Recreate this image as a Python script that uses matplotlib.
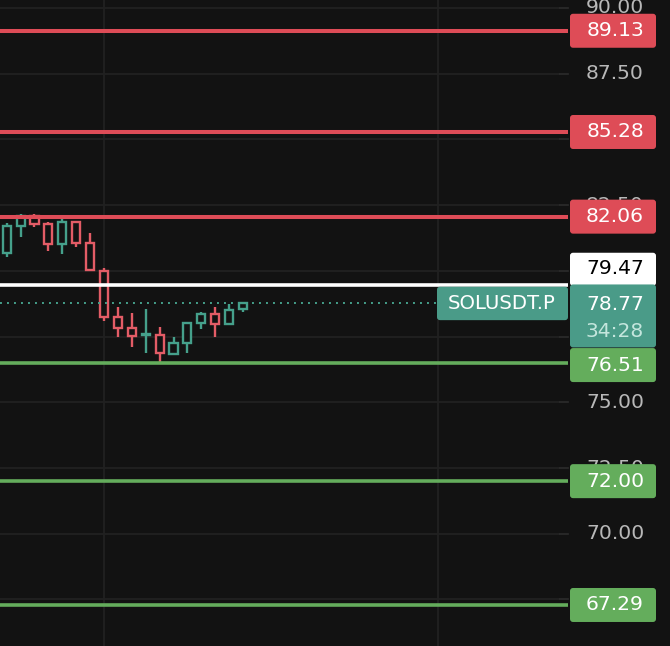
import matplotlib
matplotlib.use("Agg")
import matplotlib.pyplot as plt
from matplotlib.patches import Rectangle, FancyBboxPatch

# ---------------- data ----------------
opens  = [80.67, 81.71, 82.10, 81.79, 81.01, 81.84, 81.05, 80.01, 78.24, 77.82,
          77.56, 77.54, 76.84, 77.27, 78.01, 78.35, 77.97, 78.54]
closes = [81.71, 82.07, 81.79, 81.01, 81.86, 81.05, 80.04, 78.24, 77.82, 77.52,
          77.60, 76.87, 77.25, 78.01, 78.35, 77.97, 78.51, 78.77]
highs  = [81.81, 82.16, 82.16, 81.86, 82.00, 81.91, 81.43, 80.12, 78.62, 78.39,
          78.55, 77.86, 77.47, 78.05, 78.45, 78.64, 78.74, 78.79]
lows   = [80.52, 81.28, 81.65, 80.76, 80.63, 80.92, 80.04, 78.11, 77.47, 77.12,
          76.89, 76.52, 76.84, 76.89, 77.78, 77.47, 77.97, 78.43]

resistance = [89.13, 85.28, 82.06]
support = [76.51, 72.00, 67.29]
white_level = 79.47
current_price = 78.77
countdown = "34:28"
symbol = "SOLUSDT.P"
price_ticks = [90.00, 87.50, 85.00, 82.50, 80.00, 77.50, 75.00, 72.50, 70.00, 67.50]
# tick labels not fully covered by the level labels
visible_tick_labels = ["90.00", "87.50", "82.50", "75.00", "72.50", "70.00"]
time_grid = [7, 31]

# ---------------- style ----------------
BG = "#121212"
GRID = "#212121"
UP = "#45a08b"
DOWN = "#e35c66"
RED = "#de4c57"
GREEN = "#64ad5c"
TEAL = "#4a9b88"
TICKC = "#b8b8b8"
FONT = 14.6

W, H = 670, 646
fig = plt.figure(figsize=(W / 100, H / 100), dpi=100, facecolor=BG)

ylim = (65.73, 90.30)
ppu = H / (ylim[1] - ylim[0])  # pixels per price unit

ax = fig.add_axes([0, 0, 560 / W, 1])
ax.set_facecolor(BG)
ax.set_ylim(*ylim)
ax.set_xlim(-0.48, 39.8)
for s in ax.spines.values():
    s.set_visible(False)
ax.set_yticks(price_ticks)
ax.set_xticks(time_grid)
ax.tick_params(left=False, bottom=False, labelleft=False, labelbottom=False)
ax.grid(True, color=GRID, lw=1.3)

# candles (hollow)
bw = 0.58
for i, (o, c, h, l) in enumerate(zip(opens, closes, highs, lows)):
    col = UP if c >= o else DOWN
    top, bot = max(o, c), min(o, c)
    ax.vlines(i, top, h, color=col, lw=1.7, zorder=3)
    ax.vlines(i, l, bot, color=col, lw=1.7, zorder=3)
    ax.add_patch(Rectangle((i - bw / 2, bot), bw, max(top - bot, 0.005),
                           facecolor=BG, edgecolor=col, lw=1.7, zorder=4))

# overlay in pixel-x / price-y
ov = fig.add_axes([0, 0, 1, 1], facecolor="none")
ov.set_xlim(0, W)
ov.set_ylim(*ylim)
ov.axis("off")

def dy(px):
    return px / ppu

# price scale ticks and labels
for t in price_ticks:
    ov.plot([560, 568], [t, t], color="#2c2c2c", lw=1.2, zorder=1)
    lab = f"{t:.2f}"
    if lab in visible_tick_labels:
        ov.text(615, t, lab, ha="center", va="center", color=TICKC,
                fontsize=FONT, zorder=2)

# current price dotted line
ov.hlines(current_price, 0, 437, color=UP, lw=1.4, linestyles=(0, (1, 2.6)), zorder=5)

# level lines
for lv in resistance:
    ov.hlines(lv, 0, 568, color=RED, lw=2.9, zorder=6)
for lv in support:
    ov.hlines(lv, 0, 568, color=GREEN, lw=2.6, zorder=6)
ov.hlines(white_level, 0, 568, color="white", lw=2.6, zorder=6)

def box(x0, y_top_px, w, h_px, ref, color, z=7):
    ytop = ref - dy(y_top_px)
    p = FancyBboxPatch((x0, ytop - dy(h_px)), w, dy(h_px),
                       boxstyle="round,pad=0,rounding_size=3",
                       mutation_aspect=1 / ppu,
                       facecolor=color, edgecolor="none", zorder=z)
    ov.add_patch(p)

# resistance labels
for lv in resistance:
    box(570, -17, 86, 34, lv, RED)
    ov.text(615, lv, f"{lv:.2f}", ha="center", va="center", color="white",
            fontsize=FONT, zorder=9)

# support labels (top one shifted by collision)
for k, lv in enumerate(support):
    shift = 2.5 if k == 0 else 0
    box(570, -17 + shift, 86, 34, lv, GREEN)
    ov.text(615, lv - dy(shift), f"{lv:.2f}", ha="center", va="center",
            color="white", fontsize=FONT, zorder=9)

# white level label (shifted up)
box(570, -32, 86, 33, white_level, "white")
ov.text(615, white_level + dy(16), f"{white_level:.2f}", ha="center",
        va="center", color="black", fontsize=FONT, zorder=9)

# current price label with countdown
box(570, -18.7, 86, 63, current_price, TEAL, z=8)
ov.text(615, current_price - dy(1.3), f"{current_price:.2f}", ha="center",
        va="center", color="white", fontsize=FONT, zorder=9)
ov.text(615, current_price - dy(28), countdown, ha="center", va="center",
        color="#c4e6dd", fontsize=FONT, zorder=9)

# symbol label
box(437, -16.4, 131, 33.4, current_price, TEAL, z=8)
ov.text(502, current_price - dy(0.3), symbol, ha="center", va="center",
        color="white", fontsize=FONT - 0.4, zorder=9)

fig.savefig("out.png", dpi=100, facecolor=BG)
